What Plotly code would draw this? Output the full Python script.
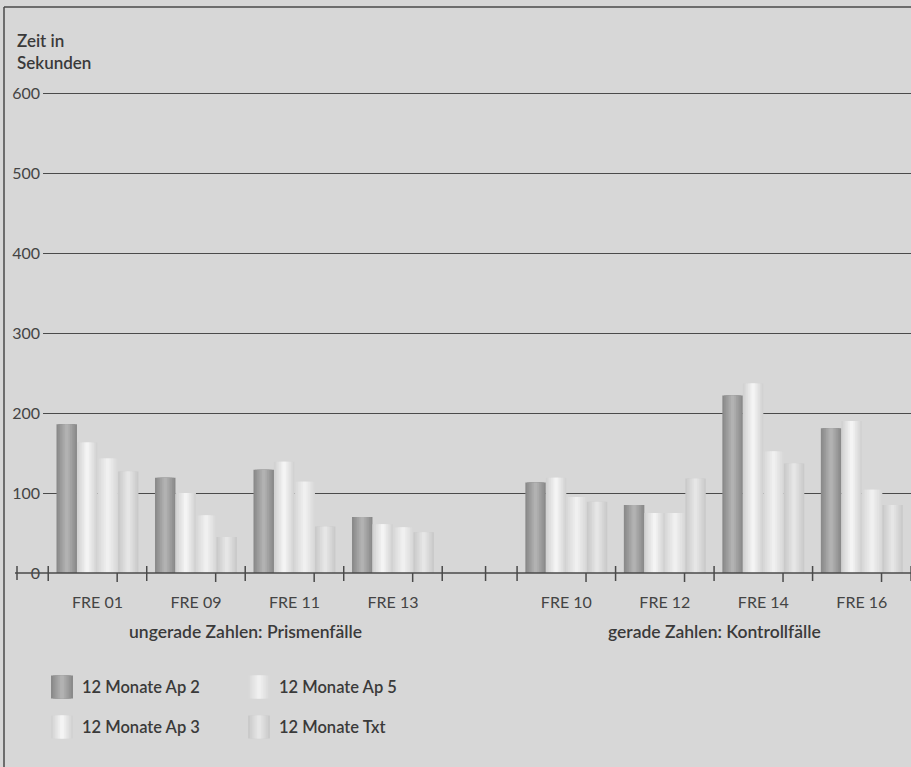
import plotly.graph_objects as go

# --- data -------------------------------------------------------------
cases = ["FRE 01", "FRE 09", "FRE 11", "FRE 13", "FRE 10", "FRE 12", "FRE 14", "FRE 16"]
series_names = ["12 Monate Ap 2", "12 Monate Ap 3", "12 Monate Ap 5", "12 Monate Txt"]
ap2 = [186, 119, 129, 70, 113, 85, 222, 181]
ap3 = [163, 100, 139, 61, 119, 75, 237, 190]
ap5 = [143, 72, 114, 57, 95, 75, 152, 104]
txt = [127, 45, 58, 51, 89, 118, 137, 85]
y_ticks = [0, 100, 200, 300, 400, 500, 600]
group_titles = ["ungerade Zahlen: Prismenfälle", "gerade Zahlen: Kontrollfälle"]
y_title = "Zeit in<br>Sekunden"

values = [ap2, ap3, ap5, txt]

# --- layout constants ---------------------------------------------------
W, H = 911, 767
Y_MAX = 605                      # a little headroom so the 600 grid line shows
ML, MR, MB = 43, 0, 194
MT = round(H - MB - Y_MAX * 0.8)
PW, PH = W - ML - MR, H - MT - MB
BG = "#d7d7d7"
INK = "#4a4a4a"
FONT = "Lato"

GAP = 0.76                       # extra space between the two case blocks
pos = [i + (GAP if i >= 4 else 0) for i in range(len(cases))]
X0 = -0.553
X1 = X0 + PW / 98.5


def px(xp):
    return (xp - ML) / PW


def py(yp):
    return (H - MB - yp) / PH


# cylinder-like shading: (edge colour, centre colour) per series
shades = [
    ((0x8a, 0x8a, 0x8a), (0xb2, 0xb2, 0xb2)),
    ((0xd2, 0xd2, 0xd2), (0xf4, 0xf4, 0xf4)),
    ((0xd8, 0xd8, 0xd8), (0xf0, 0xf0, 0xf0)),
    ((0xca, 0xca, 0xca), (0xe6, 0xe6, 0xe6)),
]
LAYERS = 6
BW = 0.208


def mix(a, b, t):
    return "rgb(%d,%d,%d)" % tuple(round(a[i] + (b[i] - a[i]) * t) for i in range(3))


fig = go.Figure()
for s, (name, vals) in enumerate(zip(series_names, values)):
    centre = (s - 1.5) * BW
    edge, mid = shades[s]
    for k in range(LAYERS):
        f = 1 - k / LAYERS
        w = BW * f
        fig.add_trace(go.Bar(
            x=pos, y=vals, name=name,
            width=w, offset=centre - w / 2,
            marker=dict(color=mix(edge, mid, k / (LAYERS - 1)), line=dict(width=0)),
            showlegend=False, hoverinfo="skip" if k else "y+name",
        ))

shapes = []
line_style = dict(color=INK, width=1.5)

# frame
shapes.append(dict(type="line", xref="paper", yref="paper", x0=px(4), x1=px(4),
                   y0=py(7), y1=py(H + 5), line=line_style))
shapes.append(dict(type="line", xref="paper", yref="paper", x0=px(4), x1=px(W + 5),
                   y0=py(7), y1=py(7), line=line_style))

# base axis line, reaching left past the labels
shapes.append(dict(type="line", xref="paper", yref="paper", x0=px(15), x1=px(W + 5),
                   y0=py(573), y1=py(573), line=line_style))
shapes.append(dict(type="line", xref="paper", yref="paper", x0=px(17), x1=px(17),
                   y0=py(566), y1=py(580), line=line_style))

# group boundary ticks (crossing the axis) and offset category ticks (below)
bounds = sorted({round(p + d, 3) for p in pos for d in (-0.5, 0.5)} | {3.94})
for b in bounds:
    shapes.append(dict(type="line", xref="x", yref="paper", x0=b, x1=b,
                       y0=py(566), y1=py(581), line=line_style))
for p in pos:
    shapes.append(dict(type="line", xref="x", yref="paper", x0=p + 0.2, x1=p + 0.2,
                       y0=py(573), y1=py(582), line=line_style))

annotations = [
    dict(text=y_title, xref="paper", yref="paper", x=px(15), y=py(28),
         xanchor="left", yanchor="top", align="left", showarrow=False,
         font=dict(family=FONT, size=17, color="#3a3a3a", weight=600)),
    dict(text=group_titles[0], xref="x", yref="paper", x=sum(pos[:4]) / 4, y=py(631),
         xanchor="center", yanchor="middle", showarrow=False,
         font=dict(family=FONT, size=17.5, color="#3a3a3a", weight=600)),
    dict(text=group_titles[1], xref="x", yref="paper", x=sum(pos[4:]) / 4, y=py(631),
         xanchor="center", yanchor="middle", showarrow=False,
         font=dict(family=FONT, size=17.5, color="#3a3a3a", weight=600)),
]

# legend: 2 x 2 grid of shaded swatches
legend_slots = [(51, 687), (51, 727), (248, 687), (248, 727)]
for s, name in enumerate(series_names):
    lx, ly = legend_slots[s]
    edge, mid = shades[s]
    sw = 22
    for k in range(LAYERS):
        f = 1 - k / LAYERS
        w = sw * f
        cx = lx + sw / 2
        shapes.append(dict(type="rect", xref="paper", yref="paper",
                           x0=px(cx - w / 2), x1=px(cx + w / 2),
                           y0=py(ly - 11.5), y1=py(ly + 11.5),
                           fillcolor=mix(edge, mid, k / (LAYERS - 1)), line=dict(width=0)))
    annotations.append(dict(text=name, xref="paper", yref="paper", x=px(lx + 29), y=py(ly),
                            xanchor="left", yanchor="middle", showarrow=False,
                            font=dict(family=FONT, size=16.5, color="#3a3a3a", weight=600)))

fig.update_layout(
    width=W, height=H,
    margin=dict(l=ML, r=MR, t=MT, b=MB, pad=0),
    paper_bgcolor=BG, plot_bgcolor=BG,
    barmode="overlay",
    showlegend=False,
    shapes=shapes,
    annotations=annotations,
    xaxis=dict(range=[X0, X1], tickvals=pos, ticktext=cases, ticks="",
               showgrid=False, zeroline=False, showline=False,
               ticklabelstandoff=18,
               tickfont=dict(family=FONT, size=16, color="#444444")),
    yaxis=dict(range=[0, Y_MAX], tickvals=y_ticks, ticks="", showgrid=True,
               gridcolor=INK, gridwidth=1.4, zeroline=False, showline=False,
               ticklabelstandoff=2,
               tickfont=dict(family=FONT, size=16, color="#444444")),
)

fig.write_html("out.html")
